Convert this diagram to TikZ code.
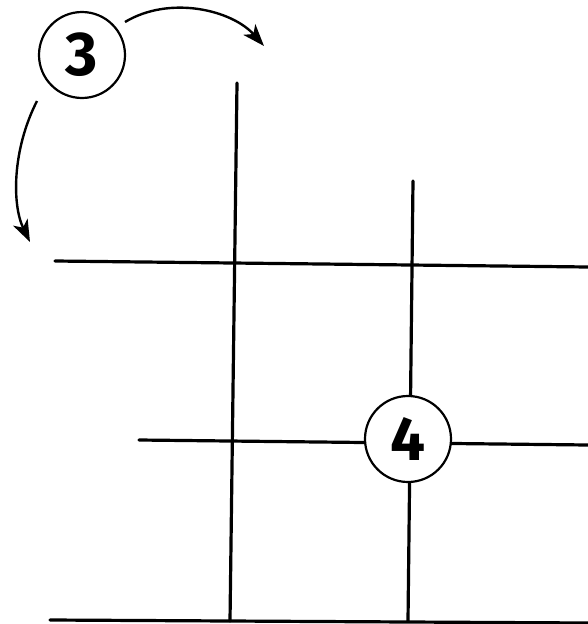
\documentclass[tikz,border=0pt]{standalone}
\usepackage{fontspec}
\setmainfont{Fira Sans}
\usetikzlibrary{arrows.meta}
\begin{document}
\begin{tikzpicture}[x=1pt,y=-1pt,
  gridline/.style={line width=3.2pt,line cap=round},
  numcircle/.style={circle,draw,line width=2.2pt,fill=white,minimum size=86pt,inner sep=0pt,font=\fontsize{62}{62}\selectfont\bfseries},
  curvearrow/.style={line width=2.4pt,-{Stealth[length=22pt,width=16pt,inset=6pt]}}]
\useasboundingbox (0,0) rectangle (588,624);
% coordinates
\coordinate (v1t) at (237,83);
\coordinate (v1b) at (230,621);
\coordinate (v2t) at (413,181);
\coordinate (v2b) at (408,621);
\coordinate (h1l) at (55,261);
\coordinate (h1r) at (588,267);
\coordinate (h2l) at (139,440);
\coordinate (h2r) at (588,445);
\coordinate (h3l) at (50,620);
\coordinate (h3r) at (588,623);
\draw[gridline] (v1t) -- (v1b);
\draw[gridline] (v2t) -- (v2b);
\draw[gridline] (h1l) -- (h1r);
\draw[gridline] (h2l) -- (h2r);
\draw[gridline] (h3l) -- (h3r);
\node[numcircle] (c3) at (82,55) {3};
\node[numcircle] (c4) at (408,439) {4};
\coordinate (a1s) at (125,22);
\coordinate (a1e) at (264,46);
\coordinate (a2s) at (37,101);
\coordinate (a2e) at (30,242);
\draw[curvearrow] (a1s) .. controls (170,-5) and (232,10) .. (a1e);
\draw[curvearrow] (a2s) .. controls (12,150) and (12,205) .. (a2e);
\end{tikzpicture}
\end{document}
